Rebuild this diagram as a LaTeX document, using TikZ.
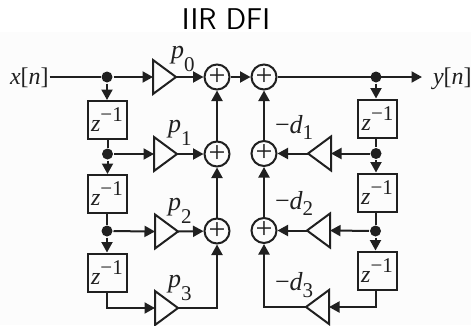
\documentclass[tikz,border=0pt]{standalone}
\usepackage{fontspec}
\setmainfont{Liberation Serif}
\usetikzlibrary{arrows.meta,shapes.geometric}
\definecolor{ink}{HTML}{202020}
\newcommand{\lbl}[3]{\textit{#1}\raisebox{#3}{\fontsize{21}{21}\selectfont #2}}
\newcommand{\zinv}{\textit{z}\raisebox{10pt}{\fontsize{21}{21}\selectfont −1}}
\tikzset{
  x=1pt,y=-1pt,
  every path/.style={line width=2pt},
  every node/.style={text=ink},
  flow/.style={draw=ink,-{Triangle[length=10.5pt,width=11pt]}},
  wire/.style={draw=ink},
  delaybox/.style={draw=ink,rectangle,minimum width=39pt,minimum height=38pt,inner sep=0pt,font=\fontsize{24}{24}\selectfont},
  adder/.style={draw=ink,circle,minimum size=25pt,inner sep=0pt,font=\fontsize{30}{30}\selectfont},
  junction/.style={fill=ink,circle,minimum size=11pt,inner sep=0pt},
  gainR/.style={draw=ink,isosceles triangle,isosceles triangle stretches=true,minimum width=34pt,minimum height=23pt,inner sep=0pt,outer sep=0pt,anchor=apex},
  gainL/.style={gainR,shape border rotate=180},
  lab/.style={font=\fontsize{26}{26}\selectfont,inner sep=0pt,anchor=base west},
  iolab/.style={font=\fontsize{24}{24}\selectfont,inner ysep=0pt,anchor=base west},
  titletext/.style={font=\fontsize{30}{30}\selectfont\sffamily,inner sep=0pt,anchor=base,text=black},
}
\begin{document}
\begin{tikzpicture}
\useasboundingbox (0,0) rectangle (471,325);
\fill[black!1] (0,32) rectangle (471,325);
\node[titletext] (title) at (226,29) {IIR DFI};
% inputs/outputs
\node[iolab,inner xsep=0pt] (xn) at (9,84) {\textit{x}[\textit{n}]\hspace{10pt}};
\node[iolab,inner xsep=10pt] (yn) at (422,84) {\textit{y}[\textit{n}]};
% left column
\node[junction] (j0) at (107,77) {};
\node[junction] (j1) at (107.5,154) {};
\node[junction] (j2) at (107,231) {};
\node[delaybox] (a1) at (107,120) {\zinv};
\node[delaybox] (a2) at (107,194) {\zinv};
\node[delaybox] (a3) at (107,272.5) {\zinv};
% forward gains
\node[gainR] (p0) at (176,77) {};
\node[gainR] (p1) at (177,154) {};
\node[gainR] (p2) at (178,231.5) {};
\node[gainR] (p3) at (178,308) {};
% adders
\node[adder] (l0) at (217,77) {+};
\node[adder] (l1) at (217,154) {+};
\node[adder] (l2) at (217,231) {+};
\node[adder] (r0) at (264,77) {+};
\node[adder] (r1) at (264,153.5) {+};
\node[adder] (r2) at (264,230.5) {+};
% right column
\node[junction] (k0) at (376,77) {};
\node[junction] (k1) at (376,153.5) {};
\node[junction] (k2) at (375.5,231) {};
\node[delaybox] (b1) at (377.5,118.5) {\zinv};
\node[delaybox] (b2) at (377,192.5) {\zinv};
\node[delaybox] (b3) at (377,270.5) {\zinv};
\node[gainL] (d1) at (308,153.5) {};
\node[gainL] (d2) at (307,230.5) {};
\node[gainL] (d3) at (306,307) {};
% labels
\node[lab] (lp0) at (170,58) {\lbl{p}{0}{-13pt}};
\node[lab] (lp1) at (167,132) {\lbl{p}{1}{-13pt}};
\node[lab] (lp2) at (167,210) {\lbl{p}{2}{-13pt}};
\node[lab] (lp3) at (167,287) {\lbl{p}{3}{-13pt}};
\node[lab] (ld1) at (274,133) {−\lbl{d}{1}{-6pt}};
\node[lab] (ld2) at (274,209) {−\lbl{d}{2}{-6pt}};
\node[lab] (ld3) at (274,290) {−\lbl{d}{3}{-7pt}};
% connectors
\draw[wire] (xn.east |- j0) -- (j0);
\draw[flow] (j0) -- (p0.lower side);
\draw[flow] (p0.apex) -- (l0);
\draw[flow] (l0) -- (r0);
\draw[flow] (r0) -- (r0 -| yn.west);
\draw[flow] (j0) -- (a1.north -| j0);
\draw[wire] (a1.south -| j1) -- (j1);
\draw[flow] (j1) -- (a2.north -| j1);
\draw[wire] (a2.south -| j2) -- (j2);
\draw[flow] (j2) -- (a3.north -| j2);
\draw[flow] (j1) -- (p1.lower side);
\draw[flow] (j2) -- (p2.lower side);
\draw[flow] (a3.south -| j2) -- (j2 |- p3.apex) -- (p3.lower side);
\draw[flow] (p1.apex) -- (l1);
\draw[flow] (p2.apex) -- (l2);
\draw[flow] (p3.apex) -| (l2);
\draw[flow] (l1) -- (l0);
\draw[flow] (l2) -- (l1);
\draw[flow] (k0) -- (k0 |- b1.north);
\draw[wire] (k1 |- b1.south) -- (k1);
\draw[flow] (k1) -- (k1 |- b2.north);
\draw[wire] (k2 |- b2.south) -- (k2);
\draw[flow] (k2) -- (k2 |- b3.north);
\draw[flow] (k2 |- b3.south) -- (k2 |- d3.apex) -- (d3.lower side);
\draw[flow] (k1) -- (d1.lower side);
\draw[flow] (k2) -- (d2.lower side);
\draw[flow] (d1.apex) -- (r1);
\draw[flow] (d2.apex) -- (r2);
\draw[flow] (d3.apex) -| (r2);
\draw[flow] (r1) -- (r0);
\draw[flow] (r2) -- (r1);
\end{tikzpicture}
\end{document}
